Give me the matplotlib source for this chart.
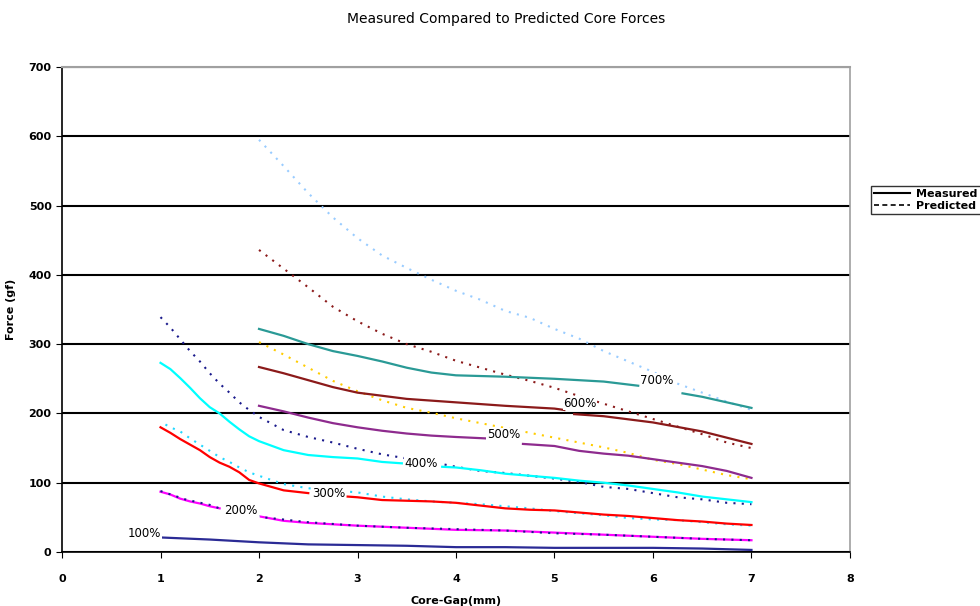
import numpy as np
import matplotlib
matplotlib.use("Agg")
import matplotlib.pyplot as plt
from matplotlib.lines import Line2D

# measured curves (solid); None = gap in the trace
x_100 = [1, 1.5, 2, 2.5, 3, 3.5, 4, 4.5, 5, 5.5, 6, 6.5, 7]
m_100 = [21, 18, 14, 11, 10, 9, 7, 7, 6, 6, 6, 5, 3]

x_200 = [1, 1.1, 1.2, 1.3, 1.4, 1.5, 1.6, 1.8, 2.02, 2.25, 2.5, 2.75, 3, 3.5, 4, 4.5, 5, 5.5, 6, 6.5, 7]
m_200 = [87, 83, 77, 73, 70, 66, 63, None, 51, 45, 42, 40, 38, 35, 32, 31, 28, 25, 22, 19, 17]
xp_200 = [1, 1.25, 1.5, 1.6, 2.05, 2.5, 3, 3.5, 4, 4.5, 5, 5.5, 6, 6.5, 7]
p_200 = [88, 76, 68, 63, 50, 43, 38, 35, 33, 31, 27, 25, 22, 19, 17]

x_300 = [1, 1.1, 1.2, 1.3, 1.4, 1.5, 1.6, 1.7, 1.8, 1.9, 2, 2.25, 2.5, 2.7,
         2.9, 3, 3.25, 3.5, 3.75, 4, 4.25, 4.5, 4.75, 5, 5.25, 5.5, 5.75, 6, 6.25, 6.5, 6.75, 7]
m_300 = [180, 172, 163, 155, 147, 137, 129, 123, 115, 104, 99, 89, 85, None,
         80, 79, 75, 74, 73, 71, 67, 63, 61, 60, 57, 54, 52, 49, 46, 44, 41, 39]
xp_300 = [1.05, 1.1, 1.2, 1.3, 1.4, 1.5, 1.6, 1.7, 1.8, 1.9, 2, 2.25, 2.5, 2.75, 3, 3.25,
          3.5, 3.75, 4, 4.25, 4.5, 4.75, 5, 5.25, 5.5, 5.75, 6, 6.25, 6.5, 6.75, 7]
p_300 = [184, 180, 174, 164, 155, 146, 137, 130, 122, 115, 110, 98, 92, 89, 86, 80,
         76, 73, 71, 69, 66, 63, 59, 56, 53, 49, 47, 46, 43, 40, 38]

x_400 = [1, 1.1, 1.2, 1.3, 1.4, 1.5, 1.6, 1.7, 1.8, 1.9, 2, 2.25, 2.5, 2.75, 3, 3.25, 3.45, 3.65,
         3.86, 4, 4.25, 4.5, 4.75, 5, 5.25, 5.5, 5.75, 6, 6.25, 6.5, 6.75, 7]
m_400 = [273, 264, 251, 237, 222, 209, 200, 188, 177, 167, 160, 147, 140, 137, 135, 130, 128, None,
         123, 122, 118, 113, 110, 107, 103, 100, 96, 91, 86, 80, 76, 72]
xp_400 = [1, 1.1, 1.2, 1.3, 1.4, 1.5, 1.6, 1.7, 1.8, 1.9, 2, 2.25, 2.5, 2.75, 3, 3.25,
          3.5, 3.75, 4, 4.25, 4.5, 4.75, 5, 5.25, 5.5, 5.75, 6, 6.25, 6.5, 6.75, 7]
p_400 = [339, 324, 307, 290, 275, 258, 243, 230, 216, 205, 195, 176, 166, 158, 149, 141,
         135, 130, 123, 117, 114, 110, 106, 101, 94, 91, 85, 79, 76, 71, 69]

x_500 = [2, 2.25, 2.5, 2.75, 3, 3.25, 3.5, 3.75, 4, 4.3, 4.5,
         4.68, 5, 5.25, 5.5, 5.75, 6, 6.25, 6.5, 6.75, 7]
m_500 = [211, 203, 194, 186, 180, 175, 171, 168, 166, 164, None,
         156, 153, 146, 142, 139, 134, 129, 124, 117, 107]
xp_500 = [2, 2.25, 2.5, 2.75, 3, 3.25, 3.5, 3.75, 4, 4.25, 4.5, 4.75, 5, 5.25,
          5.5, 5.75, 6, 6.25, 6.5, 6.75, 7]
p_500 = [303, 285, 266, 247, 232, 219, 208, 201, 193, 186, 179, 172, 165, 158,
         151, 143, 133, 127, 119, 111, 105]

x_600 = [2, 2.25, 2.5, 2.75, 3, 3.5, 4, 4.5, 5, 5.1, 5.15,
         5.2, 5.5, 6, 6.5, 7]
m_600 = [267, 258, 248, 238, 230, 221, 216, 211, 207, 205, None,
         199, 196, 187, 174, 156]
xp_600 = [2, 2.25, 2.5, 2.75, 3, 3.25, 3.5, 3.75, 4, 4.25, 4.5, 4.75, 5, 5.25,
          5.5, 5.75, 6, 6.25, 6.5, 6.75, 7]
p_600 = [436, 409, 382, 354, 333, 315, 300, 289, 276, 266, 256, 247, 237, 225,
         214, 203, 192, 181, 170, 158, 150]

x_700 = [2, 2.25, 2.5, 2.75, 3, 3.25, 3.5, 3.75, 4, 4.5, 5, 5.5, 5.85, 6.1,
         6.3, 6.5, 6.75, 7]
m_700 = [322, 312, 300, 290, 283, 275, 266, 259, 255, 253, 250, 246, 240, None,
         229, 224, 216, 208]
xp_700 = [2, 2.25, 2.5, 2.75, 3, 3.25, 3.5, 3.75, 4, 4.25, 4.5, 4.75, 5, 5.25,
          5.5, 5.75, 6, 6.25, 6.5, 6.75, 7]
p_700 = [595, 557, 518, 483, 453, 428, 410, 393, 377, 364, 348, 338, 322, 308,
         290, 275, 260, 243, 230, 217, 205]

labels = ["100%", "200%", "300%", "400%", "500%", "600%", "700%"]
label_x = [0.84, 1.82, 2.71, 3.65, 4.48, 5.26, 6.04]
label_y = [27, 60, 85, 128, 169, 215, 248]


def arr(v):
    return np.array([np.nan if a is None else a for a in v], dtype=float)


fig = plt.figure(figsize=(9.8, 6.06), dpi=100)
ax = fig.add_axes([0.0633, 0.0891, 0.804, 0.8003])

dots = (0, (1, 3))

# predicted (dotted)
ax.plot(xp_200, p_200, color="#1a1a8c", lw=1.5, ls=dots, zorder=4)
ax.plot(xp_300, p_300, color="#22d8ff", lw=1.5, ls=dots, zorder=3)
ax.plot(xp_400, p_400, color="#1a1a8c", lw=1.5, ls=dots, zorder=3)
ax.plot(xp_500, p_500, color="#ffcc00", lw=1.5, ls=dots, zorder=3)
ax.plot(xp_600, p_600, color="#8b1a1a", lw=1.5, ls=dots, zorder=3)
ax.plot(xp_700, p_700, color="#99ccff", lw=1.5, ls=dots, zorder=3)

# measured (solid)
ax.plot(x_100, m_100, color="#2b2b95", lw=1.6, zorder=3)
ax.plot(x_200, arr(m_200), color="#ff00ff", lw=1.6, zorder=3)
ax.plot(x_300, arr(m_300), color="#ff0000", lw=1.6, zorder=3)
ax.plot(x_400, arr(m_400), color="#00ffff", lw=1.6, zorder=3)
ax.plot(x_500, arr(m_500), color="#8e2b8e", lw=1.6, zorder=3)
ax.plot(x_600, arr(m_600), color="#8b1a1a", lw=1.6, zorder=3)
ax.plot(x_700, arr(m_700), color="#2a9a96", lw=1.6, zorder=3)

for t, lx, ly in zip(labels, label_x, label_y):
    ax.text(lx, ly, t, fontsize=8.5, ha="center", va="center", zorder=6,
            bbox=dict(facecolor="white", edgecolor="none", pad=0.5))

ax.set_xlim(0, 8)
ax.set_ylim(0, 700)
ax.set_xticks(range(0, 9))
ax.set_yticks(range(0, 701, 100))
ax.yaxis.grid(True, color="black", lw=1.5, zorder=1)
ax.set_axisbelow(True)
ax.tick_params(axis="both", labelsize=8, direction="out", length=4, color="black")
ax.tick_params(axis="x", pad=12)
for lab in ax.get_xticklabels() + ax.get_yticklabels():
    lab.set_fontweight("bold")
ax.spines["top"].set_color("#a0a0a0")
ax.spines["right"].set_color("#a0a0a0")
ax.spines["top"].set_linewidth(1.5)
ax.spines["right"].set_linewidth(1.2)
ax.spines["left"].set_linewidth(1.2)
ax.spines["bottom"].set_linewidth(1.2)

ax.set_xlabel("Core-Gap(mm)", fontsize=8, fontweight="bold")
ax.xaxis.set_label_coords(0.5, -0.09)
ax.set_ylabel("Force (gf)", fontsize=8, fontweight="bold")
ax.yaxis.set_label_coords(-0.058, 0.5)

fig.text(0.516, 0.968, "Measured Compared to Predicted Core Forces",
         ha="center", va="center", fontsize=10)

handles = [Line2D([], [], color="black", lw=1.5),
           Line2D([], [], color="black", lw=1.2, ls=(0, (3, 2)))]
leg = fig.legend(handles, ["Measured", "Predicted"], loc="upper left",
                 bbox_to_anchor=(0.883, 0.703), fontsize=8, frameon=True,
                 fancybox=False, handlelength=3.2, handletextpad=0.6,
                 borderpad=0.3, labelspacing=0.2)
leg.get_frame().set_edgecolor("black")
leg.get_frame().set_linewidth(1.0)
for t in leg.get_texts():
    t.set_fontweight("bold")

fig.savefig("out.png", dpi=100)
